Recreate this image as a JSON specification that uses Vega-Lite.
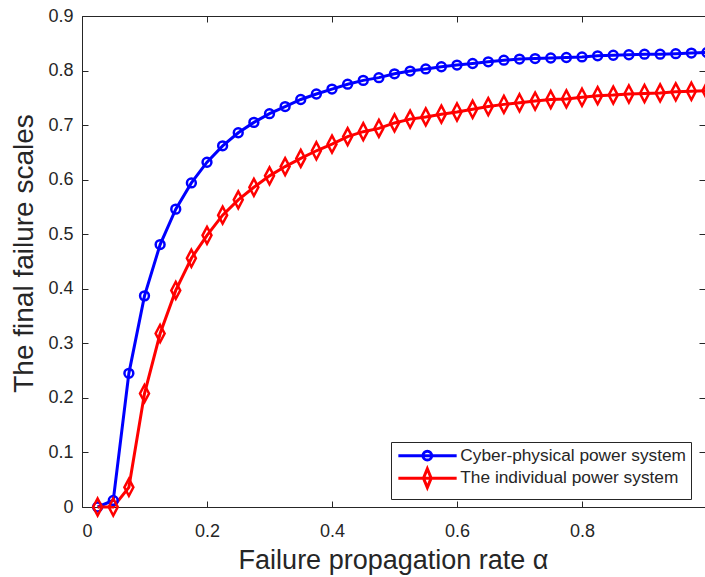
{
  "$schema": "https://vega.github.io/schema/vega-lite/v6.json",
  "width": 623,
  "height": 491,
  "autosize": {"type": "none"},
  "padding": {"left": 82, "top": 16, "right": 0, "bottom": 70},
  "background": "white",
  "config": {
    "view": {"stroke": null},
    "font": "Liberation Sans",
    "axis": {
      "grid": false,
      "domainColor": "#262626",
      "tickColor": "#262626",
      "labelColor": "#262626",
      "titleColor": "#262626",
      "labelFont": "Liberation Sans",
      "titleFont": "Liberation Sans",
      "labelFontSize": 18,
      "tickSize": -6,
      "domainWidth": 1,
      "tickWidth": 1,
      "titleFontWeight": "normal"
    }
  },
  "data": {
    "values": [
      {"alpha": 0.025, "scale": 0.000, "system": "Cyber-physical power system"},
      {"alpha": 0.050, "scale": 0.012, "system": "Cyber-physical power system"},
      {"alpha": 0.075, "scale": 0.245, "system": "Cyber-physical power system"},
      {"alpha": 0.100, "scale": 0.387, "system": "Cyber-physical power system"},
      {"alpha": 0.125, "scale": 0.481, "system": "Cyber-physical power system"},
      {"alpha": 0.150, "scale": 0.546, "system": "Cyber-physical power system"},
      {"alpha": 0.175, "scale": 0.594, "system": "Cyber-physical power system"},
      {"alpha": 0.200, "scale": 0.632, "system": "Cyber-physical power system"},
      {"alpha": 0.225, "scale": 0.662, "system": "Cyber-physical power system"},
      {"alpha": 0.250, "scale": 0.686, "system": "Cyber-physical power system"},
      {"alpha": 0.275, "scale": 0.705, "system": "Cyber-physical power system"},
      {"alpha": 0.300, "scale": 0.721, "system": "Cyber-physical power system"},
      {"alpha": 0.325, "scale": 0.734, "system": "Cyber-physical power system"},
      {"alpha": 0.350, "scale": 0.747, "system": "Cyber-physical power system"},
      {"alpha": 0.375, "scale": 0.757, "system": "Cyber-physical power system"},
      {"alpha": 0.400, "scale": 0.766, "system": "Cyber-physical power system"},
      {"alpha": 0.425, "scale": 0.775, "system": "Cyber-physical power system"},
      {"alpha": 0.450, "scale": 0.782, "system": "Cyber-physical power system"},
      {"alpha": 0.475, "scale": 0.787, "system": "Cyber-physical power system"},
      {"alpha": 0.500, "scale": 0.794, "system": "Cyber-physical power system"},
      {"alpha": 0.525, "scale": 0.799, "system": "Cyber-physical power system"},
      {"alpha": 0.550, "scale": 0.803, "system": "Cyber-physical power system"},
      {"alpha": 0.575, "scale": 0.807, "system": "Cyber-physical power system"},
      {"alpha": 0.600, "scale": 0.810, "system": "Cyber-physical power system"},
      {"alpha": 0.625, "scale": 0.813, "system": "Cyber-physical power system"},
      {"alpha": 0.650, "scale": 0.816, "system": "Cyber-physical power system"},
      {"alpha": 0.675, "scale": 0.819, "system": "Cyber-physical power system"},
      {"alpha": 0.700, "scale": 0.821, "system": "Cyber-physical power system"},
      {"alpha": 0.725, "scale": 0.822, "system": "Cyber-physical power system"},
      {"alpha": 0.750, "scale": 0.823, "system": "Cyber-physical power system"},
      {"alpha": 0.775, "scale": 0.824, "system": "Cyber-physical power system"},
      {"alpha": 0.800, "scale": 0.825, "system": "Cyber-physical power system"},
      {"alpha": 0.825, "scale": 0.827, "system": "Cyber-physical power system"},
      {"alpha": 0.850, "scale": 0.828, "system": "Cyber-physical power system"},
      {"alpha": 0.875, "scale": 0.829, "system": "Cyber-physical power system"},
      {"alpha": 0.900, "scale": 0.830, "system": "Cyber-physical power system"},
      {"alpha": 0.925, "scale": 0.830, "system": "Cyber-physical power system"},
      {"alpha": 0.950, "scale": 0.831, "system": "Cyber-physical power system"},
      {"alpha": 0.975, "scale": 0.832, "system": "Cyber-physical power system"},
      {"alpha": 1.000, "scale": 0.833, "system": "Cyber-physical power system"},
      {"alpha": 0.025, "scale": 0.000, "system": "The individual power system"},
      {"alpha": 0.050, "scale": 0.000, "system": "The individual power system"},
      {"alpha": 0.075, "scale": 0.036, "system": "The individual power system"},
      {"alpha": 0.100, "scale": 0.208, "system": "The individual power system"},
      {"alpha": 0.125, "scale": 0.318, "system": "The individual power system"},
      {"alpha": 0.150, "scale": 0.397, "system": "The individual power system"},
      {"alpha": 0.175, "scale": 0.456, "system": "The individual power system"},
      {"alpha": 0.200, "scale": 0.498, "system": "The individual power system"},
      {"alpha": 0.225, "scale": 0.535, "system": "The individual power system"},
      {"alpha": 0.250, "scale": 0.563, "system": "The individual power system"},
      {"alpha": 0.275, "scale": 0.586, "system": "The individual power system"},
      {"alpha": 0.300, "scale": 0.607, "system": "The individual power system"},
      {"alpha": 0.325, "scale": 0.624, "system": "The individual power system"},
      {"alpha": 0.350, "scale": 0.639, "system": "The individual power system"},
      {"alpha": 0.375, "scale": 0.653, "system": "The individual power system"},
      {"alpha": 0.400, "scale": 0.665, "system": "The individual power system"},
      {"alpha": 0.425, "scale": 0.679, "system": "The individual power system"},
      {"alpha": 0.450, "scale": 0.688, "system": "The individual power system"},
      {"alpha": 0.475, "scale": 0.694, "system": "The individual power system"},
      {"alpha": 0.500, "scale": 0.704, "system": "The individual power system"},
      {"alpha": 0.525, "scale": 0.711, "system": "The individual power system"},
      {"alpha": 0.550, "scale": 0.715, "system": "The individual power system"},
      {"alpha": 0.575, "scale": 0.720, "system": "The individual power system"},
      {"alpha": 0.600, "scale": 0.724, "system": "The individual power system"},
      {"alpha": 0.625, "scale": 0.729, "system": "The individual power system"},
      {"alpha": 0.650, "scale": 0.734, "system": "The individual power system"},
      {"alpha": 0.675, "scale": 0.738, "system": "The individual power system"},
      {"alpha": 0.700, "scale": 0.741, "system": "The individual power system"},
      {"alpha": 0.725, "scale": 0.744, "system": "The individual power system"},
      {"alpha": 0.750, "scale": 0.747, "system": "The individual power system"},
      {"alpha": 0.775, "scale": 0.748, "system": "The individual power system"},
      {"alpha": 0.800, "scale": 0.751, "system": "The individual power system"},
      {"alpha": 0.825, "scale": 0.754, "system": "The individual power system"},
      {"alpha": 0.850, "scale": 0.755, "system": "The individual power system"},
      {"alpha": 0.875, "scale": 0.757, "system": "The individual power system"},
      {"alpha": 0.900, "scale": 0.758, "system": "The individual power system"},
      {"alpha": 0.925, "scale": 0.759, "system": "The individual power system"},
      {"alpha": 0.950, "scale": 0.761, "system": "The individual power system"},
      {"alpha": 0.975, "scale": 0.762, "system": "The individual power system"},
      {"alpha": 1.000, "scale": 0.763, "system": "The individual power system"}
    ]
  },
  "layer": [
    {
      "mark": {"type": "line", "strokeWidth": 3, "clip": false},
      "encoding": {
        "x": {
          "field": "alpha",
          "type": "quantitative",
          "scale": {"domain": [0, 0.9968], "nice": false, "zero": false},
          "axis": {
            "orient": "bottom",
            "values": [0, 0.2, 0.4, 0.6, 0.8, 1],
            "labelExpr": "datum.value == 0 ? '0' : datum.value == 1 ? '1' : format(datum.value, '.1f')",
            "labelPadding": 21.5,
            "title": "Failure propagation rate α",
            "titleFontSize": 27,
            "titleBaseline": "alphabetic",
            "titleX": 311,
            "titleY": 61.5
          }
        },
        "y": {
          "field": "scale",
          "type": "quantitative",
          "scale": {"domain": [0, 0.9], "nice": false},
          "axis": {
            "orient": "left",
            "values": [0, 0.1, 0.2, 0.3, 0.4, 0.5, 0.6, 0.7, 0.8, 0.9],
            "labelExpr": "datum.value == 0 ? '0' : format(datum.value, '.1f')",
            "labelPadding": 15,
            "title": "The final failure scales",
            "titleFontSize": 28,
            "titleBaseline": "alphabetic",
            "titleAlign": "center",
            "titleAngle": 270,
            "titleX": -50,
            "titleY": 237
          }
        },
        "color": {
          "field": "system",
          "type": "nominal",
          "scale": {
            "domain": ["Cyber-physical power system", "The individual power system"],
            "range": ["#0000ff", "#ff0000"]
          },
          "legend": {
            "orient": "none",
            "legendX": 309,
            "legendY": 426,
            "title": null,
            "padding": 5,
            "strokeColor": "#262626",
            "fillColor": "white",
            "labelFont": "Liberation Sans",
            "labelFontSize": 17.3,
            "labelLimit": 400,
            "labelColor": "#262626",
            "labelOffset": 47,
            "symbolSize": 196,
            "symbolStrokeWidth": 3,
            "rowPadding": -3.5,
            "encode": {
              "symbols": {
                "update": {
                  "shape": {"signal": "datum.value === 'Cyber-physical power system' ? 'M-0.9,0H7.43M3.86,0A0.62,0.62 0 1,1 2.62,0A0.62,0.62 0 1,1 3.86,0Z' : 'M-0.9,0H7.43M3.24,-1.34L3.79,0L3.24,1.34L2.69,0Z'"},
                  "fill": {"value": "transparent"},
                  "size": {"value": 196},
                  "strokeWidth": {"value": 3}
                }
              }
            }
          }
        }
      }
    },
    {
      "transform": [{"filter": "datum.system === 'Cyber-physical power system'"}],
      "mark": {"type": "point", "filled": false, "strokeWidth": 2.5, "size": 289, "opacity": 1, "color": "#0000ff", "clip": false,
               "shape": "M0.52,0A0.52,0.52 0 1,1 -0.52,0A0.52,0.52 0 1,1 0.52,0Z"},
      "encoding": {
        "x": {
          "field": "alpha",
          "type": "quantitative",
          "axis": {
            "orient": "top",
            "values": [0, 0.2, 0.4, 0.6, 0.8, 1],
            "labels": false,
            "title": null
          }
        },
        "y": {
          "field": "scale",
          "type": "quantitative",
          "axis": {
            "orient": "right",
            "values": [0, 0.1, 0.2, 0.3, 0.4, 0.5, 0.6, 0.7, 0.8, 0.9],
            "labels": false,
            "domain": false,
            "title": null
          }
        }
      }
    },
    {
      "transform": [{"filter": "datum.system === 'The individual power system'"}],
      "mark": {"type": "point", "filled": false, "strokeWidth": 2.5, "size": 289, "opacity": 1, "color": "#ff0000", "clip": false,
               "shape": "M0,-1L0.53,0L0,1L-0.53,0Z"},
      "encoding": {
        "x": {"field": "alpha", "type": "quantitative", "axis": null},
        "y": {"field": "scale", "type": "quantitative", "axis": null}
      }
    }
  ],
  "resolve": {"axis": {"x": "independent", "y": "independent"}}
}
